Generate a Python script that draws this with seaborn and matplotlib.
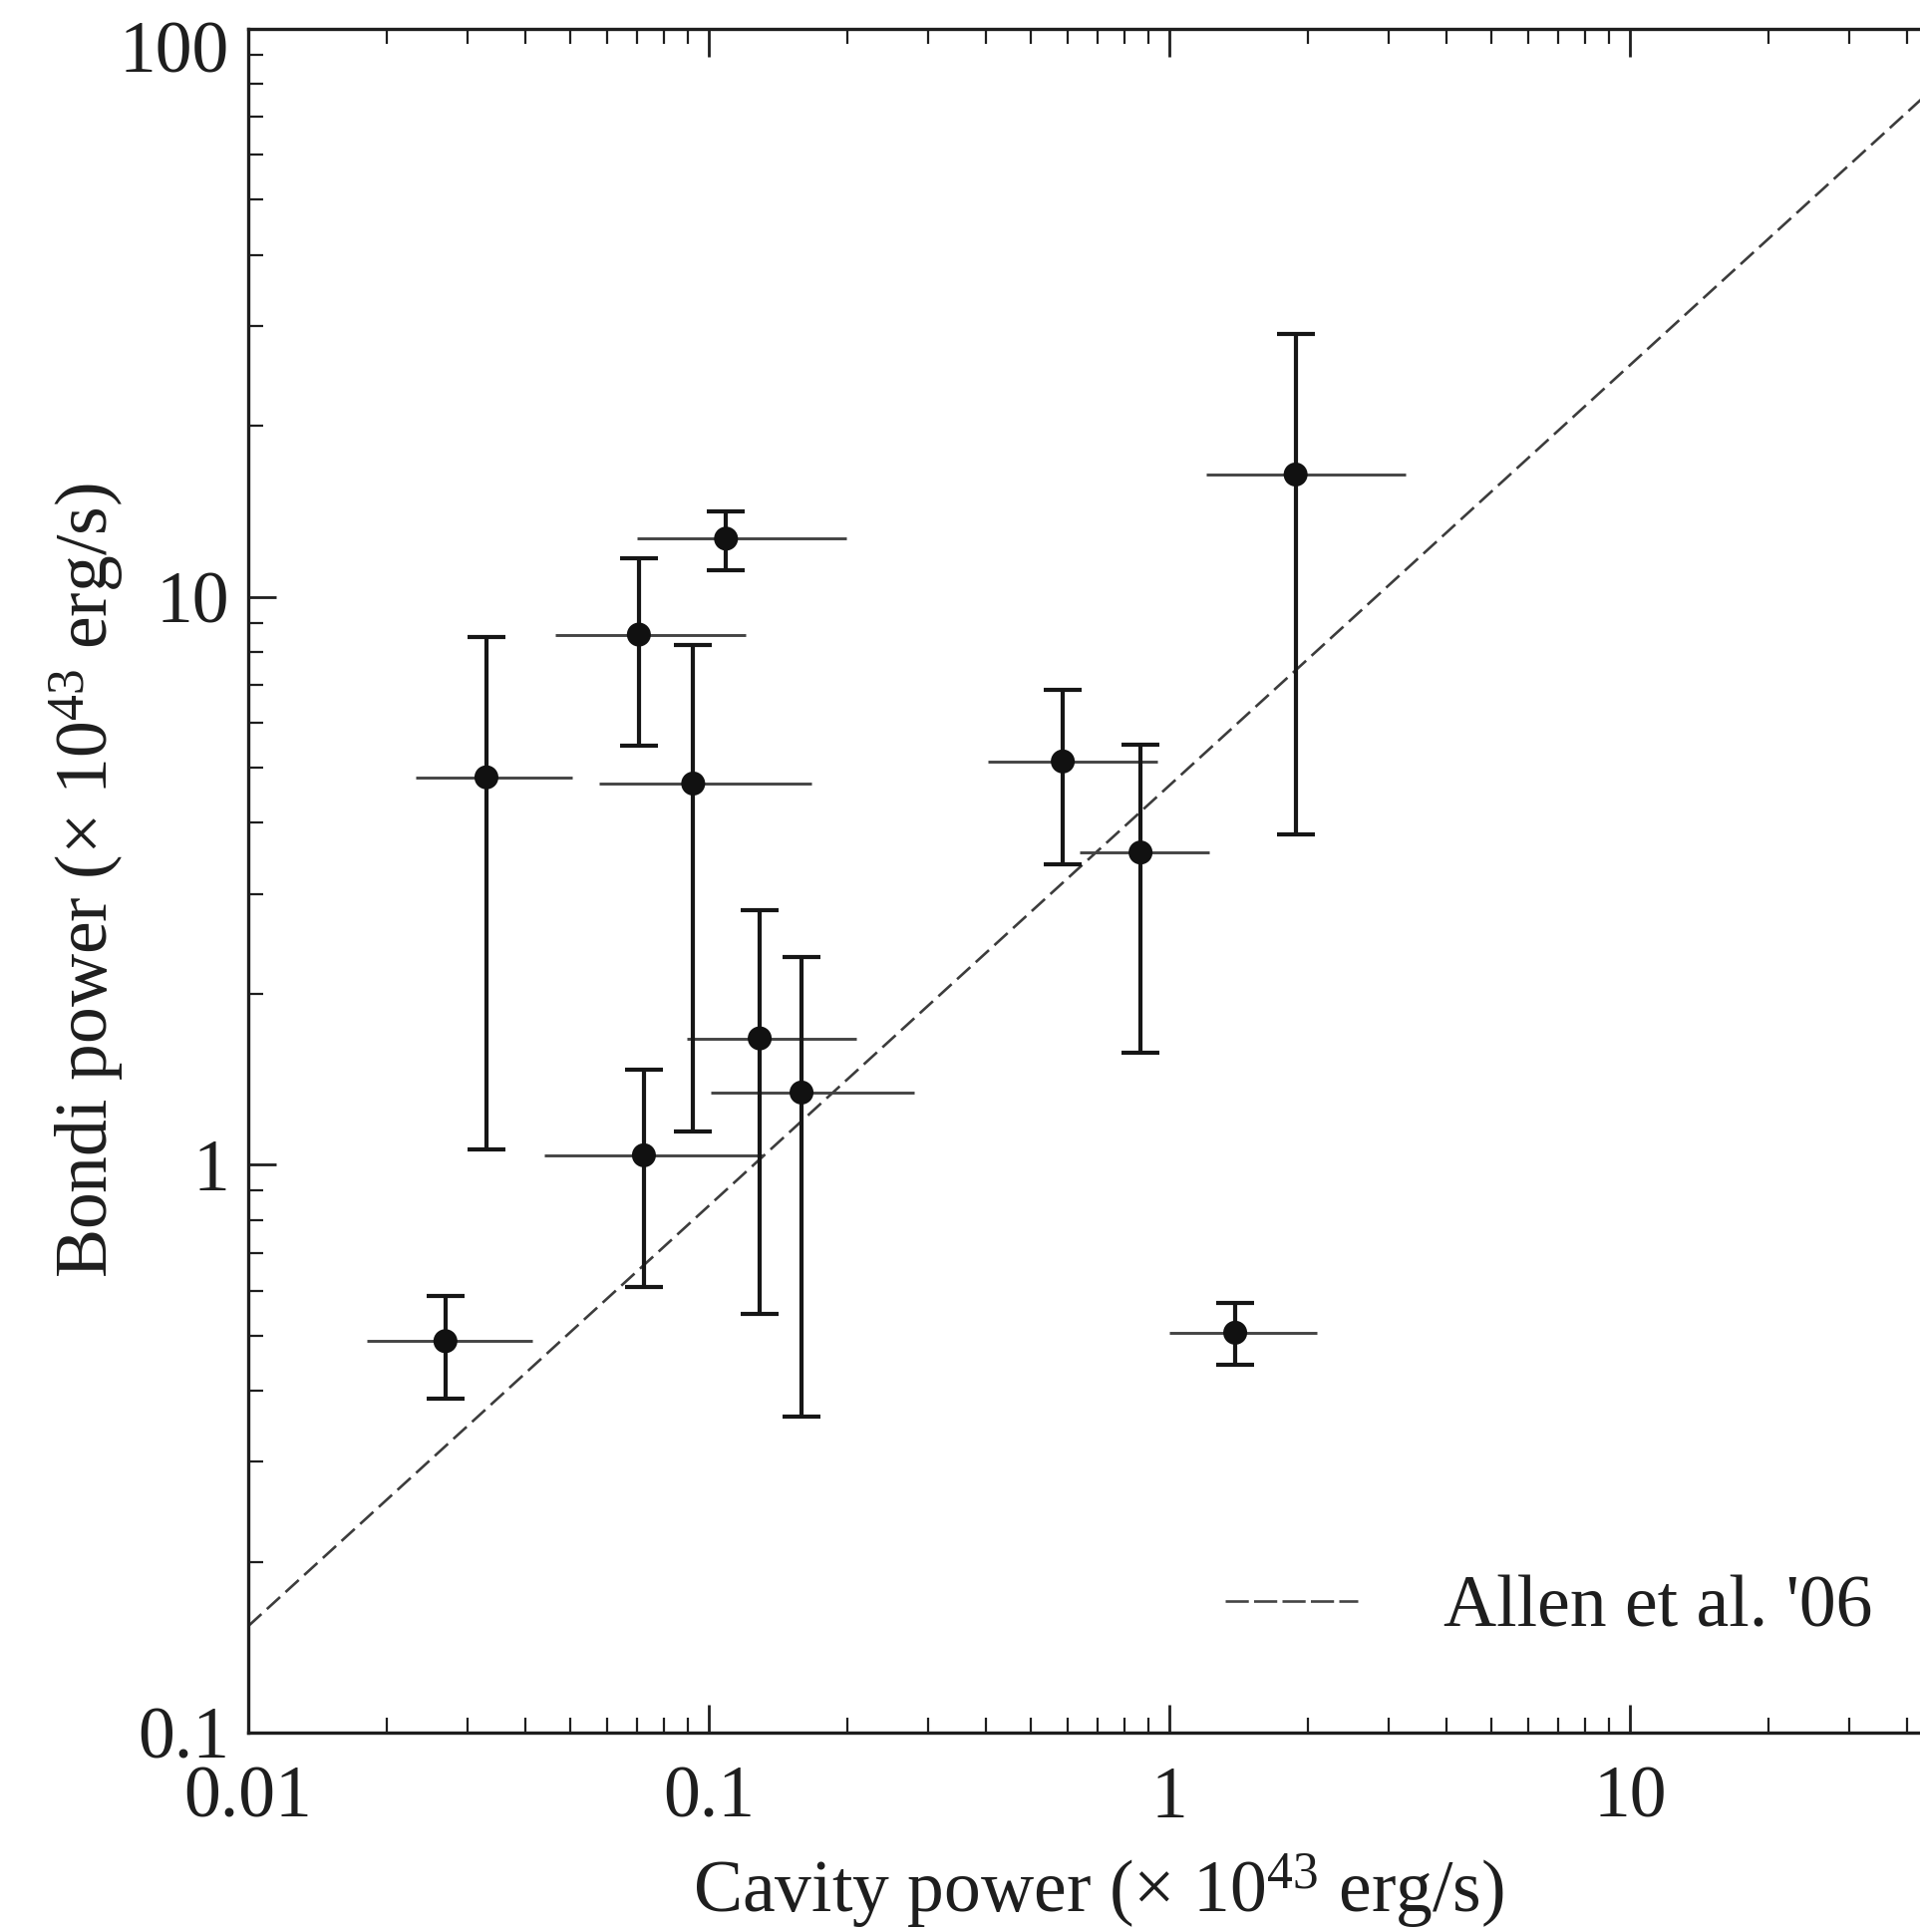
import numpy as np
import pandas as pd
import matplotlib
matplotlib.use('Agg')
import matplotlib.pyplot as plt
import seaborn as sns
from matplotlib.ticker import FixedLocator, FixedFormatter, LogLocator, NullFormatter
from matplotlib.lines import Line2D
from matplotlib.transforms import ScaledTranslation

# ---------------- data ----------------
cavity_power = [0.0268, 0.0329, 0.0705, 0.109, 0.0925, 0.0723, 0.129, 0.159, 0.587, 0.866, 1.88, 1.39]
cavity_lo    = [0.0181, 0.0231, 0.0464, 0.0697, 0.0579, 0.0439, 0.0897, 0.101, 0.403, 0.640, 1.20, 1.00]
cavity_hi    = [0.0413, 0.0506, 0.1205, 0.1985, 0.167, 0.131, 0.209, 0.279, 0.944, 1.22, 3.26, 2.09]
bondi_power  = [0.489, 4.81, 8.58, 12.66, 4.69, 1.039, 1.669, 1.34, 5.13, 3.546, 16.42, 0.506]
bondi_lo     = [0.387, 1.065, 5.47, 11.12, 1.142, 0.609, 0.545, 0.360, 3.374, 1.572, 3.822, 0.445]
bondi_hi     = [0.588, 8.49, 11.7, 14.13, 8.24, 1.473, 2.805, 2.32, 6.855, 5.50, 29.0, 0.5705]

allen_x = [0.01, 100.0]
allen_y = [0.154, 140.6]
allen_label = "Allen et al. '06"

x_ticks = [0.01, 0.1, 1, 10]
x_ticklabels = ['0.01', '0.1', '1', '10']
y_ticks = [0.1, 1, 10, 100]
y_ticklabels = ['0.1', '1', '10', '100']
x_label = 'Cavity power (× 10$^{43}$ erg/s)'
y_label = 'Bondi power (× 10$^{43}$ erg/s)'

df = pd.DataFrame({'x': cavity_power, 'xlo': cavity_lo, 'xhi': cavity_hi,
                   'y': bondi_power, 'ylo': bondi_lo, 'yhi': bondi_hi})

# ---------------- style ----------------
sns.set_theme(style='ticks')
plt.rcParams['font.family'] = ['Liberation Serif', 'DejaVu Serif']
plt.rcParams['mathtext.fontset'] = 'custom'
plt.rcParams['mathtext.rm'] = 'Liberation Serif'
plt.rcParams['mathtext.it'] = 'Liberation Serif:italic'
plt.rcParams['mathtext.bf'] = 'Liberation Serif:bold'
plt.rcParams['text.color'] = '#1e1e1e'
plt.rcParams['axes.labelcolor'] = '#1e1e1e'

FS = 53
W, H = 1926, 1938
fig = plt.figure(figsize=(W / 100, H / 100), dpi=100)
fig.patch.set_facecolor('white')
ax = fig.add_axes([249 / W, 1 - 1738 / H, 1848 / W, 1709 / H])
ax.set_facecolor('white')
ax.set_xscale('log')
ax.set_yscale('log')

# dashed relation
sns.lineplot(x=allen_x, y=allen_y, ax=ax, color='#3c3c3c', linewidth=1.9,
             linestyle=(0, (6.8, 2.8)), zorder=2)

# error bars
ax.errorbar(df['x'], df['y'], xerr=[df['x'] - df['xlo'], df['xhi'] - df['x']],
            fmt='none', ecolor='#444444', elinewidth=2.1, capsize=0, zorder=3)
ax.errorbar(df['x'], df['y'], yerr=[df['y'] - df['ylo'], df['yhi'] - df['y']],
            fmt='none', ecolor='#161616', elinewidth=3.0, capsize=13.5, capthick=3.0, zorder=4)

sns.scatterplot(data=df, x='x', y='y', ax=ax, s=300, color='#111111',
                edgecolor='none', linewidth=0, zorder=5, legend=False)

ax.set_xlim(0.01, 100)
ax.set_ylim(0.1, 100)

# ticks
ax.xaxis.set_major_locator(FixedLocator(x_ticks))
ax.xaxis.set_major_formatter(FixedFormatter(x_ticklabels))
ax.yaxis.set_major_locator(FixedLocator(y_ticks))
ax.yaxis.set_major_formatter(FixedFormatter(y_ticklabels))
ax.xaxis.set_minor_locator(LogLocator(base=10, subs=np.arange(2, 10)))
ax.yaxis.set_minor_locator(LogLocator(base=10, subs=np.arange(2, 10)))
ax.xaxis.set_minor_formatter(NullFormatter())
ax.yaxis.set_minor_formatter(NullFormatter())
ax.tick_params(which='both', direction='in', top=True, right=True,
               colors='#1e1e1e', labelsize=FS)
ax.tick_params(which='major', length=20, width=2.0)
ax.tick_params(which='minor', length=11, width=1.6)
ax.tick_params(axis='x', which='major', pad=24)
ax.tick_params(axis='y', which='major', pad=13.5)

for sp in ax.spines.values():
    sp.set_linewidth(2.4)
    sp.set_color('#1e1e1e')

# labels
ax.set_xlabel(x_label, fontsize=FS)
ax.xaxis.set_label_coords(0.4616, -0.1053)
ax.xaxis.label.set_va('baseline')
ax.set_ylabel(y_label, fontsize=FS, rotation=90, rotation_mode='anchor',
              ha='center', va='baseline')
ax.yaxis.set_label_coords(-0.0763, 0.5)

# shift the top y tick label slightly down, as in the reference
yt = ax.yaxis.get_major_ticks()
yt[-1].label1.set_transform(yt[-1].label1.get_transform() +
                            ScaledTranslation(0, -18 / 100, fig.dpi_scale_trans))

# legend
handle = Line2D([0], [0], color='#444444', linewidth=1.9, dashes=(8.8, 2.0))
ax.legend(handles=[handle], labels=[allen_label], loc='center left',
          bbox_to_anchor=(1229 / W, 1 - 1614 / H), bbox_transform=fig.transFigure,
          frameon=False, fontsize=FS, handlelength=1.81, handletextpad=1.17,
          borderpad=0, borderaxespad=0)

fig.savefig('out.png', dpi=100, facecolor='white')
